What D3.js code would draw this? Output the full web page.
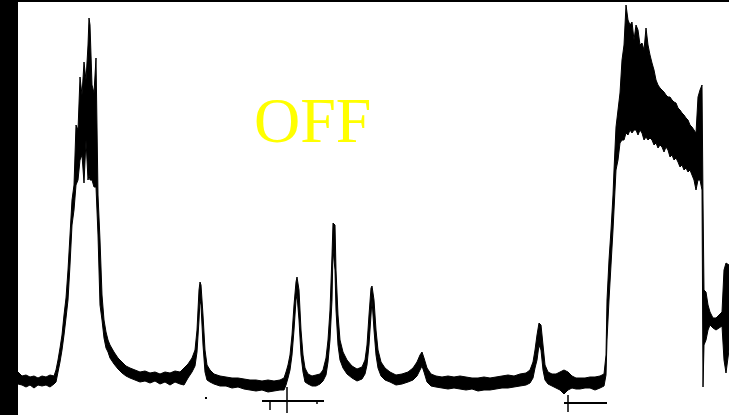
<!DOCTYPE html>
<html>
<head>
<meta charset="utf-8">
<script src="https://cdn.jsdelivr.net/npm/d3@7"></script>
<style>
    html, body { margin: 0; padding: 0; background: #fff; }
    #chart-area { width: 729px; height: 415px; }
</style>
</head>
<body>
<div id="chart-area"></div>
<script>
// spectrum trace: channel, and the upper / lower edge of the noisy band
var channel = [
    0, 4, 8, 12, 16, 20, 24, 28, 32, 36, 38, 40, 42, 44, 46, 48, 50, 52, 54, 56,
    58, 60, 62, 64, 66, 68, 70, 71, 72, 74, 76, 78, 80, 82, 84, 86, 88, 90, 92, 96,
    100, 104, 108, 112, 117, 122, 127, 132, 137, 142, 147, 152, 157, 162, 166, 170, 174, 177, 179, 181,
    182, 183, 185, 187, 189, 192, 196, 202, 208, 214, 220, 226, 232, 238, 244, 250, 256, 262, 266, 268,
    270, 272, 274, 276, 278, 279, 281, 283, 285, 287, 290, 294, 298, 302, 305, 308, 310, 312, 314, 315,
    317, 318, 320, 322, 325, 329, 334, 339, 344, 347, 349, 351, 353, 354, 356, 358, 360, 363, 367, 372,
    378, 384, 390, 395, 399, 402, 404, 406, 409, 413, 418, 424, 430, 436, 442, 448, 454, 460, 466, 472,
    478, 484, 490, 496, 502, 508, 512, 515, 517, 519, 521, 523, 525, 527, 530, 534, 538, 542, 546, 550,
    554, 558, 562, 567, 572, 577, 582, 586, 588, 589, 591, 593, 595, 596, 598, 600, 602, 604, 606, 608,
    610, 612, 614, 616, 618, 620, 622, 624, 626, 628, 630, 632, 634, 636, 638, 640, 642, 644, 646, 648,
    650, 652, 654, 656, 658, 660, 662, 664, 666, 668, 670, 672, 674, 676, 678, 680, 682, 684, 685, 686,
    688, 690, 692, 695, 698, 701, 704, 706, 708, 711
];
var upper = [
    18, 14, 15, 13, 14, 12, 14, 13, 15, 14, 20, 30, 42, 55, 75, 92, 120, 155, 190, 205,
    265, 260, 313, 295, 328, 310, 345, 372, 365, 305, 297, 332, 195, 150, 95, 70, 58, 50, 45, 38,
    32, 28, 24, 22, 20, 18, 19, 17, 18, 16, 18, 17, 19, 18, 22, 26, 32, 40, 60, 100,
    108, 105, 75, 40, 25, 20, 16, 14, 13, 12, 12, 11, 10, 10, 9, 10, 9, 10, 12, 18,
    25, 35, 55, 85, 108, 113, 100, 60, 35, 22, 16, 14, 15, 16, 20, 32, 50, 80, 135, 167,
    165, 120, 75, 50, 38, 30, 24, 21, 23, 30, 45, 75, 102, 104, 90, 60, 40, 28, 22, 18,
    15, 16, 18, 22, 28, 35, 38, 32, 22, 16, 14, 13, 14, 13, 14, 13, 12, 12, 13, 12,
    13, 14, 15, 14, 16, 17, 20, 28, 40, 55, 67, 65, 45, 25, 18, 16, 16, 18, 20, 18,
    14, 12, 12, 12, 13, 13, 14, 16, 35, 90, 130, 160, 195, 220, 263, 280, 297, 330, 345, 385,
    370, 365, 368, 350, 365, 360, 345, 347, 340, 362, 345, 335, 327, 320, 310, 305, 302, 300, 298, 295,
    293, 293, 290, 288, 287, 282, 280, 277, 275, 272, 270, 265, 263, 260, 257, 293, 300, 305, 190, 100,
    98, 85, 78, 72, 72, 75, 78, 120, 127, 125
];
var lower = [
    6, 5, 3, 5, 2, 5, 4, 5, 3, 6, 8, 18, 28, 40, 55, 72, 90, 125, 165, 180,
    205, 210, 230, 235, 207, 250, 210, 215, 210, 210, 203, 203, 155, 85, 70, 52, 42, 38, 32, 26,
    21, 17, 14, 12, 10, 8, 9, 7, 9, 6, 8, 5, 8, 6, 5, 12, 18, 24, 38, 70,
    90, 85, 45, 18, 10, 8, 6, 4, 4, 2, 3, 1, 0, -1, 0, -2, -1, 0, 0, 5,
    12, 20, 35, 60, 90, 95, 70, 35, 18, 8, 6, 4, 4, 6, 9, 15, 28, 50, 90, 140,
    120, 80, 45, 30, 22, 16, 12, 9, 11, 16, 25, 45, 75, 90, 60, 35, 22, 14, 10, 8,
    5, 6, 8, 10, 14, 20, 24, 18, 8, 4, 3, 2, 1, 2, 1, 0, 1, -1, 0, 0,
    1, 2, 2, 3, 4, 5, 7, 12, 22, 30, 45, 40, 20, 10, 6, 4, 2, 0, -4, 0,
    2, 1, 1, 2, 2, 0, 2, 4, 15, 50, 90, 125, 160, 180, 220, 230, 247, 250, 250, 257,
    255, 260, 257, 260, 260, 255, 260, 257, 250, 253, 250, 252, 250, 245, 247, 242, 245, 243, 238, 243,
    240, 233, 235, 230, 232, 228, 223, 225, 220, 222, 218, 220, 215, 210, 200, 210, 210, 200, 3, 45,
    50, 60, 65, 62, 60, 62, 64, 30, 17, 40
];

// small baseline markers under the trace: [from, to, level]
var markerLines = [[244, 306, -11], [546, 589, -13]];
// marker ticks: [channel, top, bottom]
var markerTicks = [[252, -11, -20], [269, 3, -23], [299, -11, -14], [550, -5, -22]];
var markerDots = [[188, -8]];

var label = "OFF";

var margin = { left: 18, right: 0, top: 2, bottom: 0 };
var fullW = 729, fullH = 415;
var width = fullW - margin.left - margin.right,
    height = fullH - margin.top - margin.bottom;

var svg = d3.select("#chart-area")
    .append("svg")
    .attr("width", fullW)
    .attr("height", fullH)
    .style("display", "block");

svg.append("rect")
    .attr("width", fullW)
    .attr("height", fullH)
    .attr("fill", "#fff");

var g = svg.append("g")
    .attr("transform", `translate(${margin.left}, ${margin.top})`);

var x = d3.scaleLinear()
    .domain([0, 711])
    .range([0, width]);

var y = d3.scaleLinear()
    .domain([-25, 388])
    .range([height, 0]);

var data = channel.map(function (c, i) { return { c: c, hi: upper[i], lo: lower[i] }; });

//noisy band
var area = d3.area()
    .x(function (d) { return x(d.c); })
    .y0(function (d) { return y(d.lo); })
    .y1(function (d) { return y(d.hi); });

g.append("path")
    .datum(data)
    .attr("d", area)
    .attr("fill", "#000")
    .attr("stroke", "#000")
    .attr("stroke-width", 1)
    .attr("stroke-linejoin", "round");

//markers
g.selectAll(".mline")
    .data(markerLines)
    .enter().append("line")
    .attr("class", "mline")
    .attr("x1", function (d) { return x(d[0]); })
    .attr("x2", function (d) { return x(d[1]); })
    .attr("y1", function (d) { return y(d[2]); })
    .attr("y2", function (d) { return y(d[2]); })
    .attr("stroke", "#000")
    .attr("stroke-width", 2);

g.selectAll(".mtick")
    .data(markerTicks)
    .enter().append("line")
    .attr("class", "mtick")
    .attr("x1", function (d) { return x(d[0]); })
    .attr("x2", function (d) { return x(d[0]); })
    .attr("y1", function (d) { return y(d[1]); })
    .attr("y2", function (d) { return y(d[2]); })
    .attr("stroke", "#000")
    .attr("stroke-width", 1.5);

g.selectAll(".mdot")
    .data(markerDots)
    .enter().append("rect")
    .attr("class", "mdot")
    .attr("x", function (d) { return x(d[0]) - 1; })
    .attr("y", function (d) { return y(d[1]) - 1; })
    .attr("width", 2)
    .attr("height", 2)
    .attr("fill", "#000");

//frame: heavy left bar and thin top edge
svg.append("rect")
    .attr("x", 0).attr("y", 0)
    .attr("width", margin.left).attr("height", fullH)
    .attr("fill", "#000");
svg.append("rect")
    .attr("x", 0).attr("y", 0)
    .attr("width", fullW).attr("height", margin.top)
    .attr("fill", "#000");

svg.append("text")
    .attr("x", 254)
    .attr("y", 142)
    .attr("font-family", "'Liberation Serif', 'DejaVu Serif', serif")
    .attr("font-size", 64)
    .attr("fill", "#ffff00")
    .text(label);
</script>
</body>
</html>
